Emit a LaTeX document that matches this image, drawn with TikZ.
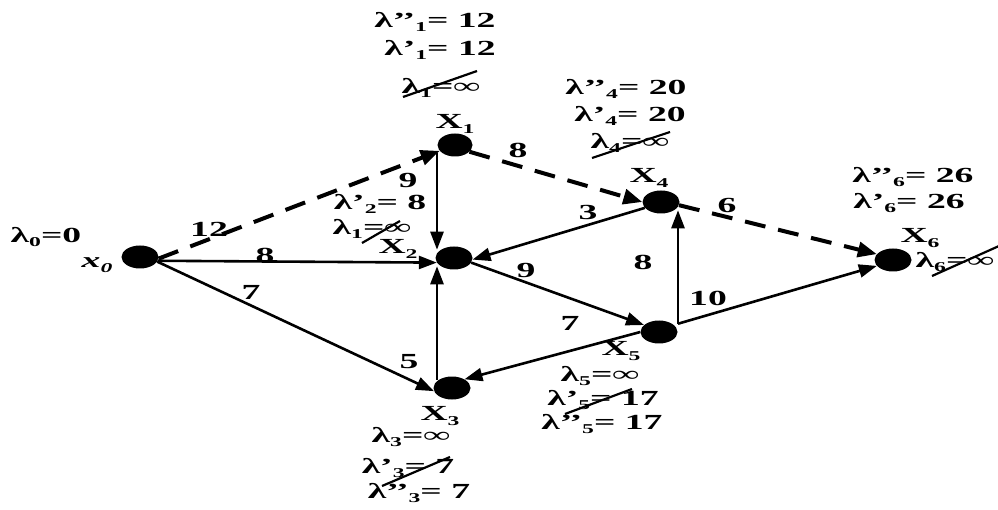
\documentclass[tikz,border=0pt]{standalone}
\usepackage{fontspec}
\setmainfont{Liberation Serif}[FakeStretch=1.75]
\usetikzlibrary{arrows.meta,shapes.geometric}
\newcommand\lsb[1]{\raisebox{-0.22em}{\fontsize{13.5}{13.5}\selectfont #1}}
\begin{document}
\begin{tikzpicture}[x=1pt,y=-1pt,
  dot/.style={ellipse,fill=black,draw=none,minimum width=37pt,minimum height=23pt,inner sep=0pt},
  arr/.style={line width=2.6pt,-{Triangle[length=18pt,width=13pt]}},
  dasharr/.style={line width=4pt,dash pattern=on 21pt off 13pt,-{Triangle[length=19pt,width=15pt]}},
  lbl/.style={inner sep=0pt,font=\fontsize{21.5}{21.5}\selectfont\bfseries},
  strike/.style={line width=2.2pt}]
\useasboundingbox (0,0) rectangle (998,510);
% nodes
\node[dot] (x0) at (140,257) {};
\node[dot,minimum width=35pt] (X1) at (455,145) {};
\node[dot] (X2) at (454,258) {};
\node[dot] (X3) at (452,388) {};
\node[dot] (X4) at (661,202) {};
\node[dot] (X5) at (659,332) {};
\node[dot] (X6) at (893,260) {};
\coordinate (vx) at (437,0);
\coordinate (vx2) at (678,0);
% edges
\draw[dasharr] (x0.-5) -- (X1);
\draw[arr] (x0.-12) -- (X2.195);
\draw[arr] (x0.-15) -- (X3.190);
\draw[arr] (X1.south west -| vx) -- (X2.north west -| vx);
\draw[arr] (X3.north west -| vx) -- (X2.south west -| vx);
\draw[dasharr] (X1.-25) -- (X4.180);
\draw[arr] (X4.200) -- (X2.-5);
\draw[arr] (X2.-15) -- (X5.155);
\draw[arr] (X5.180) -- (X3.35);
\draw[arr] (X5.north east -| vx2) -- (X4.south east -| vx2);
\draw[dasharr] (X4.-10) -- (X6.160);
\draw[arr] (X5.north east -| vx2) -- (X6.200);
% edge weights
\node[lbl] (w1) at (209,229) {12};
\node[lbl] (w2) at (265,255) {8};
\node[lbl] (w3) at (251,292) {7};
\node[lbl] (w4) at (408,180) {9};
\node[lbl] (w5) at (518,150) {8};
\node[lbl] (w6) at (588,212) {3};
\node[lbl] (w7) at (526,270) {9};
\node[lbl] (w8) at (643,262) {8};
\node[lbl] (w9) at (570,323) {7};
\node[lbl] (w10) at (708,298) {10};
\node[lbl] (w11) at (727,205) {6};
\node[lbl] (w12) at (409,362) {5};
% node names
\node[lbl] (n0) at (97,265) {\itshape x\lsb{0}};
\node[lbl] (n1) at (455,124) {X\lsb{1}};
\node[lbl] (n2) at (398,249) {X\lsb{2}};
\node[lbl] (n3) at (440,416) {X\lsb{3}};
\node[lbl] (n4) at (649,178) {X\lsb{4}};
\node[lbl] (n5) at (621,351) {X\lsb{5}};
\node[lbl] (n6) at (920,238) {X\lsb{6}};
% lambda labels
\node[lbl] (a0) at (46,237) {λ\lsb{0}=0};
\node[lbl] (a1a) at (435,22) {λ’’\lsb{1}= 12};
\node[lbl] (a1b) at (440,50) {λ’\lsb{1}= 12};
\node[lbl] (a1c) at (441,88) {λ\lsb{1}=∞};
\node[lbl] (a4a) at (626,89) {λ’’\lsb{4}= 20};
\node[lbl] (a4b) at (630,116) {λ’\lsb{4}= 20};
\node[lbl] (a4c) at (630,143) {λ\lsb{4}=∞};
\node[lbl] (a6a) at (913,177) {λ’’\lsb{6}= 26};
\node[lbl] (a6b) at (909,203) {λ’\lsb{6}= 26};
\node[lbl] (a6c) at (955,262) {λ\lsb{6}=∞};
\node[lbl] (a2a) at (380,204) {λ’\lsb{2}= 8};
\node[lbl] (a2b) at (372,229) {λ\lsb{1}=∞};
\node[lbl] (a5a) at (600,376) {λ\lsb{5}=∞};
\node[lbl] (a5b) at (603,400) {λ’\lsb{5}= 17};
\node[lbl] (a5c) at (602,424) {λ’’\lsb{5}= 17};
\node[lbl] (a3a) at (411,437) {λ\lsb{3}=∞};
\node[lbl] (a3b) at (408,468) {λ’\lsb{3}= 7};
\node[lbl] (a3c) at (419,493) {λ’’\lsb{3}= 7};
% strike-throughs
\draw[strike] ([shift={(-38,9)}]a1c.center) -- ([shift={(36,-17)}]a1c.center);
\draw[strike] ([shift={(-38,15)}]a4c.center) -- ([shift={(40,-11)}]a4c.center);
\draw[strike] ([shift={(-23,14)}]a6c.center) -- ([shift={(44,-16)}]a6c.center);
\draw[strike] ([shift={(-10,14)}]a2b.center) -- ([shift={(28,-8)}]a2b.center);
\draw[strike] ([shift={(-38,14)}]a5b.center) -- ([shift={(29,-11)}]a5b.center);
\draw[strike] ([shift={(-26,18)}]a3b.center) -- ([shift={(42,-11)}]a3b.center);
\end{tikzpicture}
\end{document}
